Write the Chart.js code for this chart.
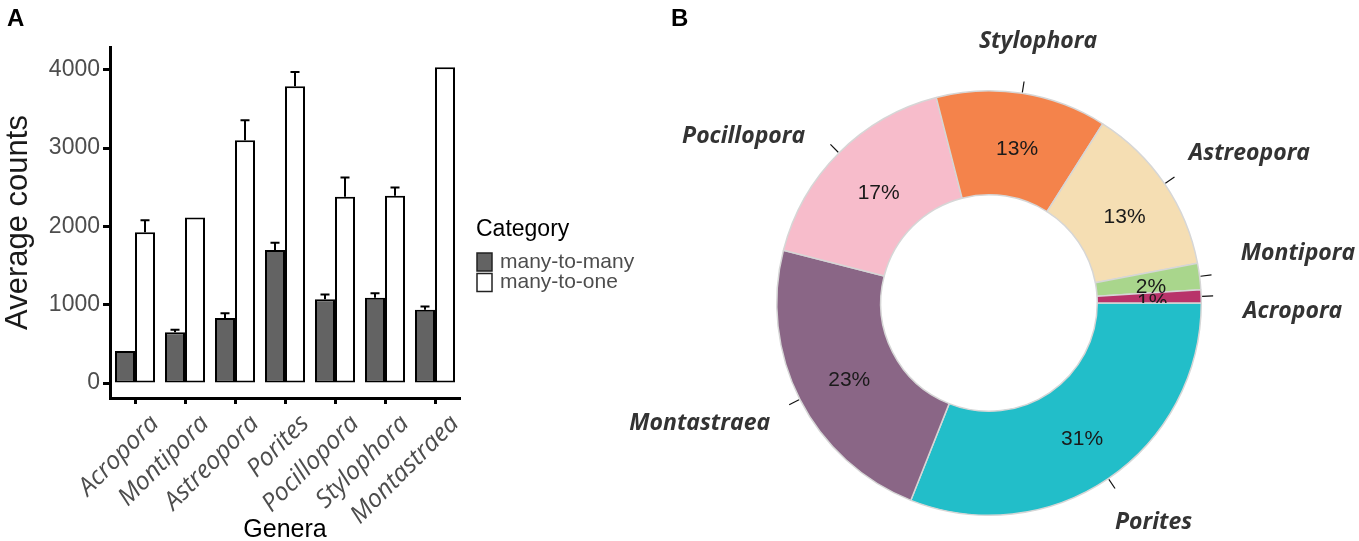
<!DOCTYPE html>
<html><head><meta charset="utf-8">
<script src="https://cdn.jsdelivr.net/npm/chart.js@4"></script>
<style>
html,body{margin:0;padding:0;background:#fff;width:1359px;height:541px;overflow:hidden;}
#bar{position:absolute;left:0;top:0;}
#pie{position:absolute;left:600px;top:0;}
.panel{position:absolute;top:3px;font:bold 24px "Liberation Sans",Arial,sans-serif;line-height:30px;color:#000;}
</style></head>
<body>
<canvas id="bar" width="680" height="541"></canvas>
<canvas id="pie" width="759" height="541"></canvas>
<div class="panel" style="left:7px">A</div>
<div class="panel" style="left:671px">B</div>
<script>
// ---- Panel A data ----
const genera = ['Acropora','Montipora','Astreopora','Porites','Pocillopora','Stylophora','Montastraea'];
const seriesNames = ['many-to-many','many-to-one'];
const manyToMany = [410, 650, 830, 1700, 1070, 1090, 935];
const manyToManyErr = [0, 30, 62, 92, 60, 56, 42];
const manyToOne = [1925, 2115, 3100, 3790, 2380, 2390, 4030];
const manyToOneErr = [155, 0, 255, 180, 245, 108, 0];
const yTicks = [0, 1000, 2000, 3000, 4000];

// ---- Panel B data ----
const pieLabels = ['Porites','Montastraea','Pocillopora','Stylophora','Astreopora','Montipora','Acropora'];
const pieValues = [31, 23, 17, 13, 13, 2, 1];
const pieColors = ['#22BEC9','#8A6686','#F7BCCB','#F4834B','#F5DEB3','#A9D68C','#B8336A'];

const SANS = '"Liberation Sans", Arial, sans-serif';
const OPEN = '"Open Sans", sans-serif';

// error bar plugin
const errorBars = {
  id: 'errorBars',
  afterDatasetsDraw(chart) {
    const ctx = chart.ctx, y = chart.scales.y;
    chart.data.datasets.forEach((ds, i) => {
      const meta = chart.getDatasetMeta(i);
      meta.data.forEach((bar, j) => {
        const e = ds.errors[j];
        if (!e) return;
        const top = y.getPixelForValue(ds.data[j] + e);
        ctx.save();
        ctx.strokeStyle = '#000';
        ctx.lineWidth = 2;
        ctx.beginPath();
        ctx.moveTo(bar.x, bar.y);
        ctx.lineTo(bar.x, top);
        ctx.moveTo(bar.x - 4.5, top);
        ctx.lineTo(bar.x + 4.5, top);
        ctx.stroke();
        ctx.restore();
      });
    });
  }
};

// legend plugin
const catLegend = {
  id: 'catLegend',
  afterDraw(chart, args, opts) {
    const ctx = chart.ctx, ca = chart.chartArea;
    const x = ca.right + opts.dx;
    let y = ca.top + opts.dy;
    ctx.save();
    ctx.textBaseline = 'middle';
    ctx.textAlign = 'left';
    ctx.fillStyle = '#000';
    ctx.font = '23px ' + SANS;
    ctx.fillText(opts.title, x, y);
    y += 32;
    chart.data.datasets.forEach((ds) => {
      ctx.fillStyle = ds.backgroundColor;
      ctx.fillRect(x + 1, y - 9, 15, 18);
      ctx.strokeStyle = '#222';
      ctx.lineWidth = 1.5;
      ctx.strokeRect(x + 1, y - 9, 15, 18);
      ctx.fillStyle = '#4D4D4D';
      ctx.font = '21px ' + SANS;
      ctx.fillText(ds.label, x + 24, y);
      y += 20.5;
    });
    ctx.restore();
  }
};

new Chart(document.getElementById('bar'), {
  type: 'bar',
  data: {
    labels: genera,
    datasets: [
      {label: seriesNames[0], data: manyToMany, errors: manyToManyErr, backgroundColor: '#636363', borderColor: '#000', borderWidth: 2, borderSkipped: false},
      {label: seriesNames[1], data: manyToOne, errors: manyToOneErr, backgroundColor: '#ffffff', borderColor: '#000', borderWidth: 2, borderSkipped: false}
    ]
  },
  options: {
    responsive: false,
    animation: false,
    events: [],
    datasets: {bar: {categoryPercentage: 0.8, barPercentage: 1.0}},
    layout: {padding: {left: 0, top: 47, right: 220, bottom: 0}},
    plugins: {
      legend: {display: false},
      tooltip: {enabled: false},
      catLegend: {title: 'Category', dx: 16, dy: 183}
    },
    scales: {
      x: {
        offset: true,
        grid: {display: true, offset: false, drawOnChartArea: false, drawTicks: true, tickLength: 6, tickWidth: 3, tickColor: '#000'},
        border: {display: true, color: '#000', width: 3},
        ticks: {minRotation: 45, maxRotation: 45, autoSkip: false, labelOffset: 20, padding: 5, color: '#4D4D4D',
                font: {family: OPEN, size: 25, style: 'italic'}},
        title: {display: true, text: 'Genera', color: '#000', font: {family: SANS, size: 25}, padding: {top: 0, bottom: -4}},
        afterFit(s) { s.height = 143; }
      },
      y: {
        min: -190, max: 4290,
        afterBuildTicks(s) { s.ticks = yTicks.map(v => ({value: v})); },
        grid: {display: true, drawOnChartArea: false, drawTicks: true, tickLength: 7, tickWidth: 3, tickColor: '#000'},
        border: {display: true, color: '#000', width: 3},
        ticks: {padding: 3, color: '#4D4D4D', font: {family: SANS, size: 23}, callback: v => String(v)},
        title: {display: true, text: 'Average counts', color: '#1a1a1a', font: {family: SANS, size: 31}, padding: {top: 0, bottom: 4}},
        afterFit(s) { s.width = 110; }
      }
    }
  },
  plugins: [errorBars, catLegend]
});

// donut labels plugin
const donutLabels = {
  id: 'donutLabels',
  afterDatasetsDraw(chart, args, opts) {
    const ctx = chart.ctx;
    const meta = chart.getDatasetMeta(0);
    const arcs = meta.data;
    const vals = chart.data.datasets[0].data;
    const total = vals.reduce((a, b) => a + b, 0);
    const first = arcs[0];
    const cx = first.x, cy = first.y;
    // percentages
    arcs.forEach((arc, i) => {
      const p = arc.getCenterPoint();
      ctx.save();
      if (i > 0) {
        ctx.beginPath();
        ctx.moveTo(cx, cy);
        ctx.arc(cx, cy, 2000, first.endAngle, first.startAngle + Math.PI * 2);
        ctx.closePath();
        ctx.clip();
      }
      ctx.fillStyle = '#1a1a1a';
      ctx.font = '21px ' + SANS;
      ctx.textAlign = 'center';
      ctx.textBaseline = 'middle';
      ctx.fillText(Math.round(vals[i] / total * 100) + '%', p.x + 3, p.y + 4);
      ctx.restore();
    });
    // ticks and names
    ctx.save();
    ctx.font = 'italic bold 23px ' + OPEN;
    const items = arcs.map((arc, i) => {
      const name = chart.data.labels[i];
      const mid = (arc.startAngle + arc.endAngle) / 2;
      const R = arc.outerRadius;
      ctx.strokeStyle = '#111';
      ctx.lineWidth = 1.2;
      ctx.beginPath();
      ctx.moveTo(cx + Math.cos(mid) * (R + 1), cy + Math.sin(mid) * (R + 1));
      ctx.lineTo(cx + Math.cos(mid) * (R + 12), cy + Math.sin(mid) * (R + 12));
      ctx.stroke();
      const a = mid + ((opts.nudge && opts.nudge[name]) || 0) * Math.PI / 180;
      const rr = R + opts.gap;
      const w = ctx.measureText(name).width, h = 22;
      const x = cx + Math.cos(a) * rr + Math.cos(a) * w / 2;
      const y = cy + Math.sin(a) * rr + Math.sin(a) * h / 2;
      return {name, x, y, right: Math.cos(a) >= 0};
    });
    // simple vertical repel per side
    [true, false].forEach(side => {
      const s = items.filter(it => it.right === side).sort((p, q) => p.y - q.y);
      for (let k = 0; k < 20; k++) {
        for (let j = 1; j < s.length; j++) {
          const d = s[j].y - s[j - 1].y;
          if (d < opts.minGap) {
            const m = (opts.minGap - d) / 2;
            s[j - 1].y -= m; s[j].y += m;
          }
        }
      }
    });
    ctx.fillStyle = '#333';
    ctx.textAlign = 'center';
    ctx.textBaseline = 'middle';
    items.forEach(it => ctx.fillText(it.name, it.x, it.y));
    ctx.restore();
  }
};

new Chart(document.getElementById('pie'), {
  type: 'doughnut',
  data: {
    labels: pieLabels,
    datasets: [{data: pieValues, backgroundColor: pieColors, borderColor: '#d6d6d6', borderWidth: 1.5, hoverOffset: 0}]
  },
  options: {
    responsive: false,
    animation: false,
    events: [],
    rotation: 90,
    cutout: '51%',
    layout: {padding: {left: 176, right: 157, top: 90, bottom: 25}},
    plugins: {
      legend: {display: false},
      tooltip: {enabled: false},
      donutLabels: {gap: 42, minGap: 58, nudge: {Pocillopora: -6}}
    }
  },
  plugins: [donutLabels]
});
</script>
</body></html>
